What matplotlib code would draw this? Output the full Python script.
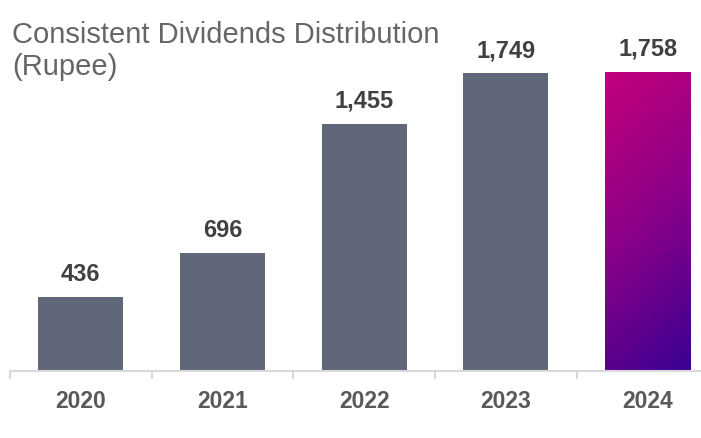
import numpy as np
import matplotlib
matplotlib.use('Agg')
import matplotlib.pyplot as plt
from matplotlib.colors import LinearSegmentedColormap

years = ['2020', '2021', '2022', '2023', '2024']
dividends = [436, 696, 1455, 1749, 1758]
labels = ['436', '696', '1,455', '1,749', '1,758']

plt.rcParams['font.family'] = ['Liberation Sans', 'DejaVu Sans']

fig = plt.figure(figsize=(7.01, 4.38), dpi=100)
# axes runs a bit past the right edge, like the cropped original
ax = fig.add_axes([10 / 701, 67 / 438, 708.5 / 701, 371 / 438])

bar_color = '#5f6779'
bars = ax.bar(range(len(years)), dividends, width=0.6, color=bar_color, zorder=2)

# gradient fill for the last bar
grad = LinearSegmentedColormap.from_list('grad', ['#c4007c', '#8a0088', '#3a0092'])
last = bars[-1]
x0, w, h = last.get_x(), last.get_width(), last.get_height()
u = np.linspace(0, 1, 60)
v = np.linspace(0, 1, 200)
U, V = np.meshgrid(u, v)
T = 0.8 * V + 0.2 * U
last.set_facecolor('none')
im = ax.imshow(T, cmap=grad, extent=[x0, x0 + w, 0, h], origin='upper',
               aspect='auto', zorder=2, interpolation='bilinear')
im.set_clip_path(last)

for b, lab in zip(bars, labels):
    ax.annotate(lab, xy=(b.get_x() + b.get_width() / 2, b.get_height()),
                xytext=(0, 11.5), textcoords='offset points', ha='center', va='baseline',
                fontsize=17, fontweight='bold', color='#404040')

ax.set_xlim(-0.5, 4.5)
ax.set_ylim(0, 371 / 0.1701)
for s in ['top', 'right', 'left']:
    ax.spines[s].set_visible(False)
ax.spines['bottom'].set_color('#d9d9d9')
ax.spines['bottom'].set_linewidth(1.5)
ax.set_yticks([])
ax.set_xticks(range(len(years)))
ax.set_xticklabels(years, fontsize=16.5, fontweight='bold', color='#595959')
ax.tick_params(axis='x', which='major', length=0, pad=14)
ax.set_xticks(np.arange(-0.5, 5, 1), minor=True)
ax.tick_params(axis='x', which='minor', length=6, width=1.5, color='#d9d9d9')

fig.text(12 / 701, 1 - 21 / 438, 'Consistent Dividends Distribution\n(Rupee)',
         ha='left', va='top', fontsize=21, color='#666666', linespacing=1.2)

fig.savefig('out.png', dpi=100)
